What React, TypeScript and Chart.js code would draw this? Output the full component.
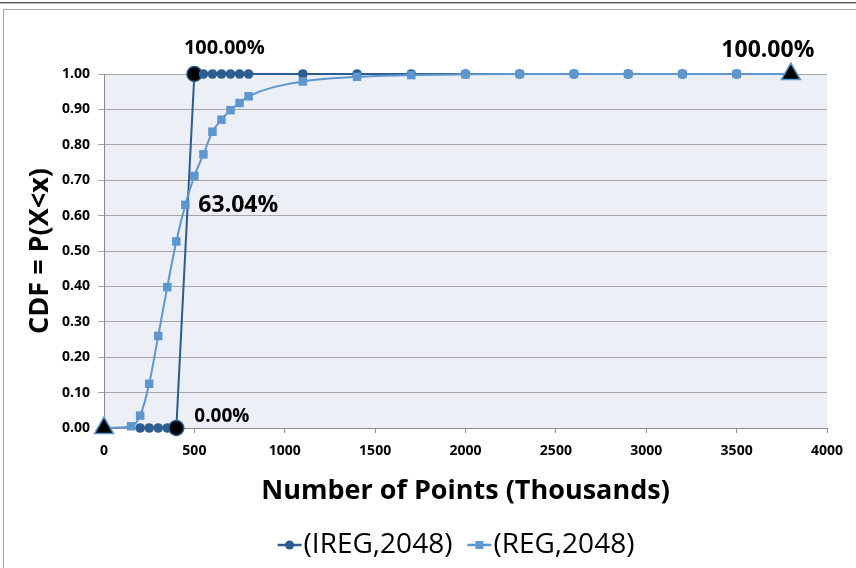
import { useEffect, useRef } from 'react';
import { Chart, registerables } from 'chart.js';

Chart.register(...registerables);

const FONT = '"Open Sans", Lato, sans-serif';

// ---- data ----
const seriesLabels = ['(IREG,2048)', '(REG,2048)'];
const iregX = [200, 250, 300, 350, 400, 500, 550, 600, 650, 700, 750, 800, 1100, 1400, 1700, 2000, 2300, 2600, 2900, 3200, 3500];
const iregY = [0, 0, 0, 0, 0, 1, 1, 1, 1, 1, 1, 1, 1, 1, 1, 1, 1, 1, 1, 1, 1];
const regX = [0, 150, 200, 250, 300, 350, 400, 450, 500, 550, 600, 650, 700, 750, 800, 1100, 1400, 1700, 2000, 2300, 2600, 2900, 3200, 3500, 3800];
const regY = [0, 0.005, 0.035, 0.125, 0.26, 0.398, 0.527, 0.6304, 0.712, 0.773, 0.837, 0.871, 0.898, 0.918, 0.937, 0.979, 0.992, 0.997, 0.999, 1, 1, 1, 1, 1, 1];
const iregHighlightX = [400, 500];
const regHighlightX = [0, 3800];
const xTickMin = 0;
const xTickMax = 4000;
const xTickStep = 500;
const yTickMin = 0;
const yTickMax = 1;
const yTickStep = 0.1;
const xTitle = 'Number of Points (Thousands)';
const yTitle = 'CDF = P(X<x)';

const IREG_COLOR = '#2b5d90';
const REG_COLOR = '#5e97d0';

// labelled points: series index (0 IREG, 1 REG), x value, placement
const labelledPoints = [
  { series: 0, x: 500, dx: 30, dy: -26, align: 'center' as CanvasTextAlign, size: 20 },
  { series: 1, x: 450, dx: 13, dy: 1, align: 'left' as CanvasTextAlign, size: 23 },
  { series: 0, x: 400, dx: 18, dy: -11, align: 'left' as CanvasTextAlign, size: 19 },
  { series: 1, x: 3800, dx: -23, dy: -24, align: 'center' as CanvasTextAlign, size: 23 },
];

const decorPlugin = {
  id: 'decor',
  beforeDraw(chart: any) {
    const { ctx, chartArea: a, width, height } = chart;
    ctx.save();
    ctx.fillStyle = '#ffffff';
    ctx.fillRect(0, 0, width, height);
    ctx.lineWidth = 1;
    ctx.strokeStyle = '#555555';
    ctx.beginPath();
    ctx.moveTo(0, 2.5);
    ctx.lineTo(width, 2.5);
    ctx.stroke();
    ctx.strokeStyle = '#b8b8b8';
    ctx.beginPath();
    ctx.moveTo(0, 3.5);
    ctx.lineTo(width, 3.5);
    ctx.stroke();
    ctx.strokeStyle = '#a8a8a8';
    ctx.strokeRect(3.5, 9.5, width + 5, height + 10);
    ctx.fillStyle = '#eceff5';
    ctx.fillRect(a.left, a.top, a.right - a.left, a.bottom - a.top);
    ctx.restore();
  },
  afterDatasetsDraw(chart: any) {
    const { ctx } = chart;
    const xs = chart.scales.x;
    const ys = chart.scales.y;
    const sx = [iregX, regX];
    const sy = [iregY, regY];
    ctx.save();
    ctx.fillStyle = '#000000';
    ctx.textBaseline = 'middle';
    for (const lp of labelledPoints) {
      const idx = sx[lp.series].indexOf(lp.x);
      const v = sy[lp.series][idx];
      const px = xs.getPixelForValue(lp.x);
      const py = ys.getPixelForValue(v);
      ctx.font = `bold ${lp.size}px ${FONT}`;
      ctx.textAlign = lp.align;
      ctx.fillText((v * 100).toFixed(2) + '%', px + lp.dx, py + lp.dy);
    }
    ctx.restore();
  },
  afterDraw(chart: any) {
    const { ctx } = chart;
    const colors = [IREG_COLOR, REG_COLOR];
    const styles = ['circle', 'rect'];
    const lineLen = 24;
    const gap = 2;
    const itemGap = 15;
    const cy = 545;
    const centerX = 456;
    ctx.save();
    ctx.font = `28px ${FONT}`;
    const widths = seriesLabels.map((t) => lineLen + gap + ctx.measureText(t).width);
    const total = widths.reduce((s, w) => s + w, 0) + itemGap * (seriesLabels.length - 1);
    let x = centerX - total / 2;
    seriesLabels.forEach((t, i) => {
      ctx.strokeStyle = colors[i];
      ctx.lineWidth = 2.5;
      ctx.beginPath();
      ctx.moveTo(x, cy);
      ctx.lineTo(x + lineLen, cy);
      ctx.stroke();
      ctx.fillStyle = colors[i];
      if (styles[i] === 'circle') {
        ctx.beginPath();
        ctx.arc(x + lineLen / 2, cy, 4.5, 0, Math.PI * 2);
        ctx.fill();
      } else {
        ctx.fillRect(x + lineLen / 2 - 4, cy - 4, 8, 8);
      }
      ctx.fillStyle = '#000000';
      ctx.textAlign = 'left';
      ctx.textBaseline = 'middle';
      ctx.fillText(t, x + lineLen + gap, cy);
      x += widths[i] + itemGap;
    });
    ctx.restore();
  },
};

export default function App() {
  const ref = useRef<HTMLCanvasElement | null>(null);
  useEffect(() => {
    if (!ref.current) return;
    const iregData = iregX.map((x, i) => ({ x, y: iregY[i] }));
    const regData = regX.map((x, i) => ({ x, y: regY[i] }));
    const chart = new Chart(ref.current, {
      type: 'line',
      data: {
        datasets: [
          {
            label: seriesLabels[1],
            data: regData,
            order: 0,
            clip: false,
            borderColor: REG_COLOR,
            backgroundColor: REG_COLOR,
            borderWidth: 2,
            cubicInterpolationMode: 'monotone',
            tension: 0.4,
            pointStyle: (c: any) => (regHighlightX.includes(regX[c.dataIndex]) ? 'triangle' : 'rect'),
            pointRadius: (c: any) => (regHighlightX.includes(regX[c.dataIndex]) ? 11 : 6),
            pointBackgroundColor: (c: any) => (regHighlightX.includes(regX[c.dataIndex]) ? '#000000' : REG_COLOR),
            pointBorderColor: REG_COLOR,
            pointBorderWidth: (c: any) => (regHighlightX.includes(regX[c.dataIndex]) ? 1.5 : 0),
          },
          {
            label: seriesLabels[0],
            data: iregData,
            order: 1,
            clip: false,
            borderColor: IREG_COLOR,
            backgroundColor: IREG_COLOR,
            borderWidth: 2,
            tension: 0,
            pointStyle: 'circle',
            pointRadius: (c: any) => (iregHighlightX.includes(iregX[c.dataIndex]) ? 7.5 : 4.8),
            pointBackgroundColor: (c: any) => (iregHighlightX.includes(iregX[c.dataIndex]) ? '#000000' : IREG_COLOR),
            pointBorderColor: IREG_COLOR,
            pointBorderWidth: (c: any) => (iregHighlightX.includes(iregX[c.dataIndex]) ? 1.5 : 0),
          },
        ],
      },
      options: {
        responsive: false,
        animation: false,
        devicePixelRatio: 1,
        layout: { padding: { top: 74, right: 29, bottom: 60, left: 0 } },
        plugins: {
          legend: { display: false },
          tooltip: { enabled: false },
        },
        scales: {
          x: {
            type: 'linear',
            min: xTickMin,
            max: xTickMax,
            afterFit: (s: any) => {
              s.height = 80;
            },
            ticks: {
              stepSize: xTickStep,
              color: '#000000',
              font: { family: FONT, size: 14, weight: 'bold' },
              padding: 10,
              maxRotation: 0,
              autoSkip: false,
              callback: (v: any) => String(v),
            },
            grid: {
              display: true,
              drawOnChartArea: false,
              drawTicks: true,
              tickLength: 5,
              color: '#8c8c8c',
            },
            border: { display: true, color: '#8c8c8c', width: 1 },
            title: {
              display: true,
              text: xTitle,
              color: '#000000',
              font: { family: FONT, size: 27, weight: 'bold' },
              padding: { top: 0, bottom: 0 },
            },
          },
          y: {
            type: 'linear',
            min: yTickMin,
            max: yTickMax,
            afterFit: (s: any) => {
              s.width = 104;
            },
            ticks: {
              stepSize: yTickStep,
              color: '#000000',
              font: { family: FONT, size: 14, weight: 'bold' },
              padding: 8,
              callback: (v: any) => Number(v).toFixed(2),
            },
            grid: {
              color: '#a6a6a6',
              drawTicks: true,
              tickLength: 6,
            },
            border: { display: true, color: '#8c8c8c', width: 1 },
            title: {
              display: true,
              text: yTitle,
              color: '#000000',
              font: { family: FONT, size: 27, weight: 'bold' },
              padding: { top: 24, bottom: 0 },
            },
          },
        },
      },
      plugins: [decorPlugin],
    });
    return () => chart.destroy();
  }, []);

  return (
    <div style={{ position: 'fixed', left: 0, top: 0, width: 856, height: 568, background: '#fff' }}>
      <canvas ref={ref} width={856} height={568} style={{ display: 'block', width: 856, height: 568 }} />
    </div>
  );
}
